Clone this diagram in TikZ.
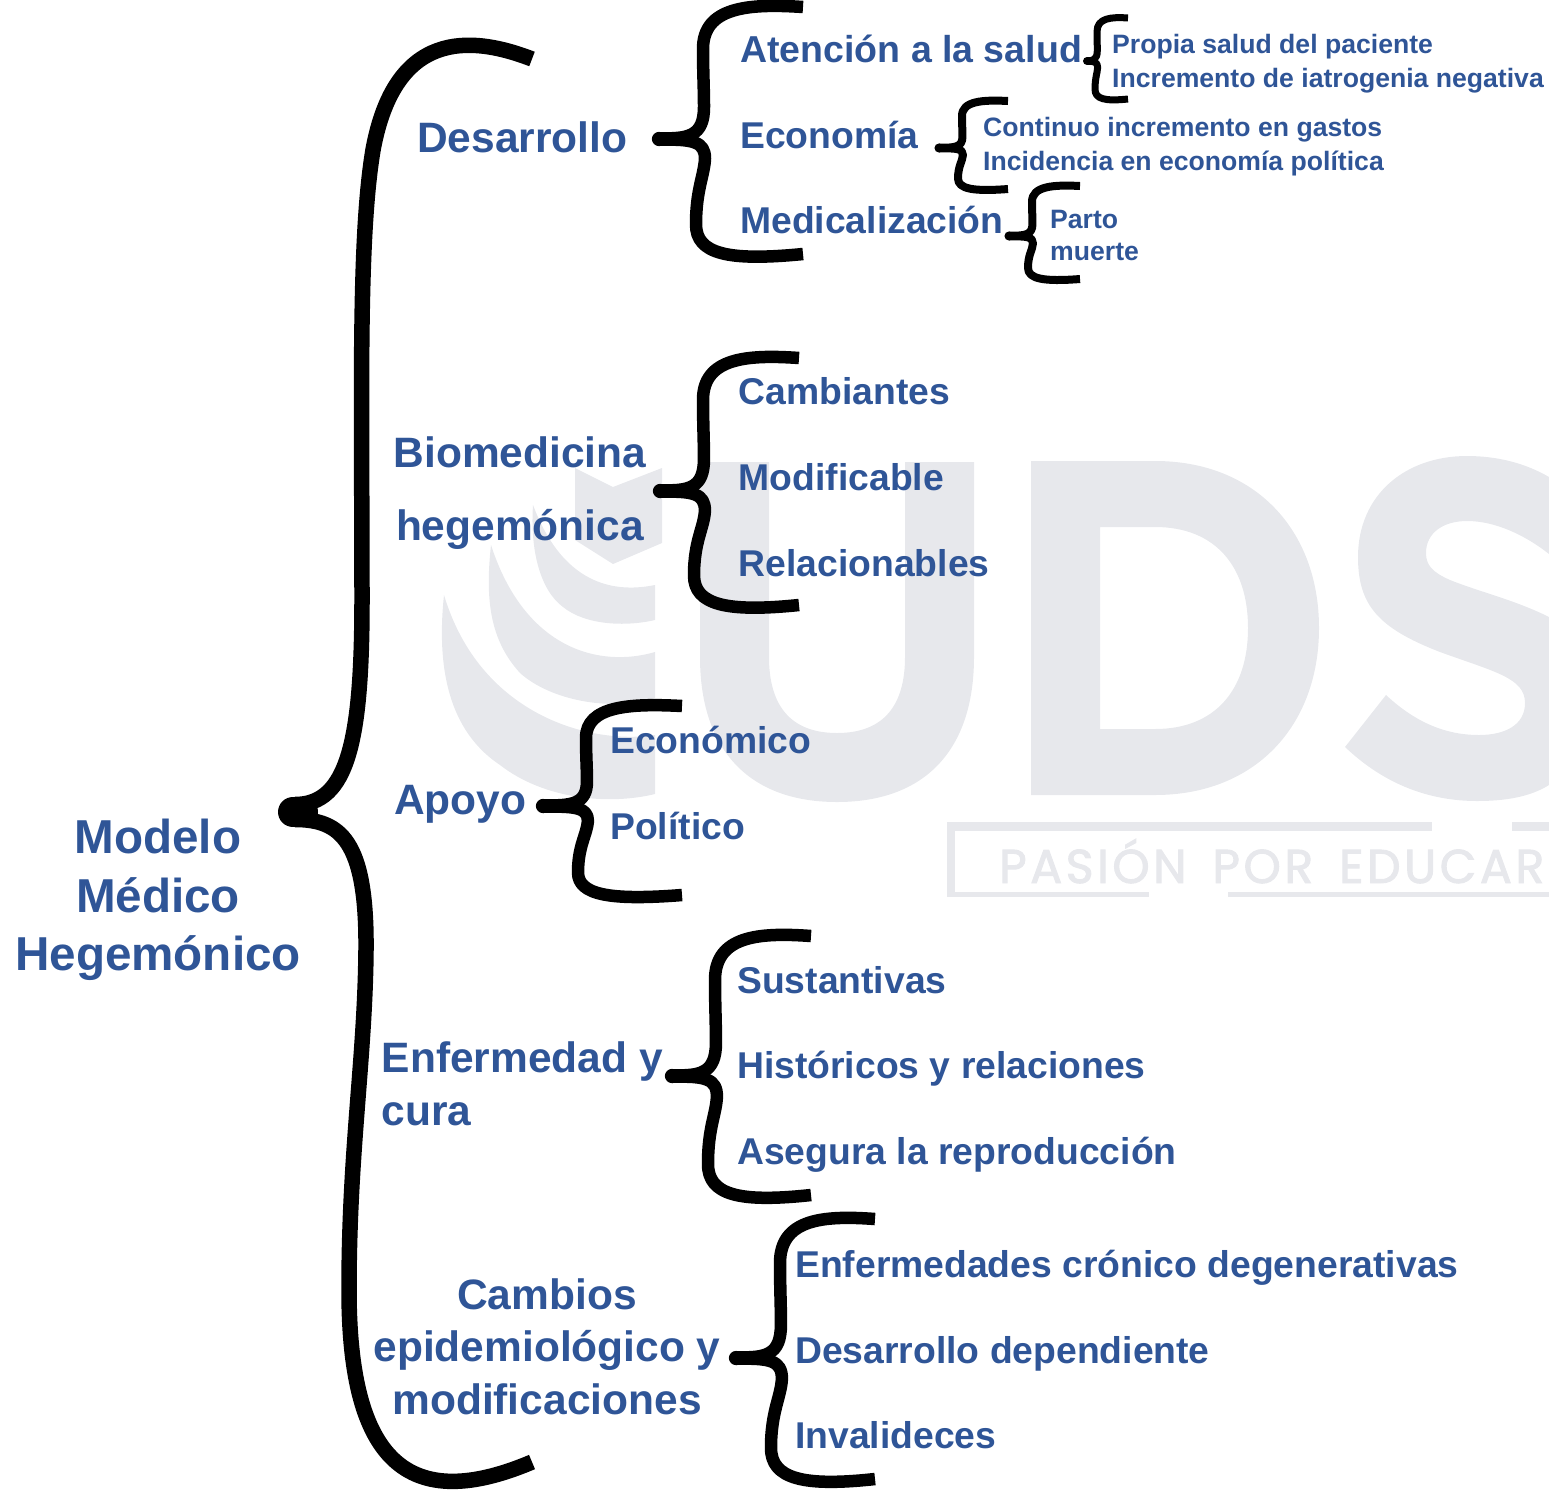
\documentclass[tikz,border=0pt]{standalone}
\usepackage{fontspec}
\setmainfont{Liberation Sans}
\newfontfamily\wmfont[LetterSpace=7.4,WordSpace=1.6,FakeBold=2]{Poppins}
\definecolor{inkblue}{HTML}{2F5597}
\definecolor{wm}{HTML}{E7E8EC}
\newcommand{\fsz}[2]{\fontsize{#1}{#2}\selectfont\bfseries}
\tikzset{
  big/.style={inkblue,inner sep=0pt,align=center,font=\fsz{47.6}{58.5}},
  lvlb/.style={inkblue,inner sep=0pt,font=\fsz{42.5}{52.7}},
  lvlc/.style={inkblue,inner sep=0pt,anchor=base west,font=\fsz{37.3}{44}},
  lvld/.style={inkblue,inner sep=0pt,anchor=base west,font=\fsz{26.6}{32}},
  bracestroke/.style={draw=black,line join=round,line cap=butt},
  wmfill/.style={fill=wm,draw=none}
}
% #1 xe, #2 yt, #3 xs, #4 xl, #5 xt, #6 yc, #7 yb, #8 line width
\newcommand{\curly}[8]{%
  \pgfmathsetmacro{\bw}{#1-#3}%
  \pgfmathsetmacro{\bh}{#7-#2}%
  \draw[bracestroke,line width=#8]
    (#1,#2) .. controls ({#3+.45*\bw},{#2-.015*\bh}) and (#3,#2) .. (#3,{#2+.17*\bh})
    .. controls (#3,{#2+.26*\bh}) and ({#3+.01*\bw},{#6-.2*\bh}) .. ({#3+.01*\bw},{#6-.13*\bh})
    .. controls ({#3+.01*\bw},{#6-.01*\bh}) and ({#3-.15*\bw},#6) .. (#5,{#6-#8*.06});
  \draw[bracestroke,line width=#8]
    (#5,{#6+#8*.06}) .. controls ({#3-.1*\bw},#6) and ({#3+.02*\bw},{#6+.01*\bh}) .. ({#3+.02*\bw},{#6+.08*\bh})
    .. controls ({#3+.01*\bw},{#6+.15*\bh}) and (#4,{#7-.26*\bh}) .. (#4,{#7-.12*\bh})
    .. controls (#4,{#7-.0*\bh}) and ({#3+.25*\bw},{#7+.03*\bh}) .. (#1,#7);
  \fill (#5,#6) circle ({#8*.57pt});
}
\begin{document}
\begin{tikzpicture}[x=1pt,y=-1pt]
\useasboundingbox (0,0) rectangle (1549,1489);
\clip (0,0) rectangle (1549,1489);
% watermark logo
\fill[wmfill] (575,468) -- (575,540) -- (613,564) -- (662,543) -- (662,468) -- (613,487) -- cycle;
\fill[wmfill] (533,505) .. controls (530,550) and (540,590) .. (563,607) .. controls (585,625) and (625,627) .. (655,620) -- (655,585) .. controls (620,592) and (565,590) .. (533,505) -- cycle;
\fill[wmfill] (491,545) .. controls (485,600) and (490,640) .. (520,673) .. controls (550,700) and (610,712) .. (655,698) -- (655,652) .. controls (600,668) and (525,650) .. (491,545) -- cycle;
\fill[wmfill] (444,595) .. controls (435,680) and (455,735) .. (500,765) .. controls (545,800) and (610,805) .. (655,794) -- (655,735) .. controls (590,745) and (480,715) .. (444,595) -- cycle;
\fill[wmfill,even odd rule] (700,462) -- (769,462) -- (769,657) .. controls (769,705) and (790,733) .. (837,733) .. controls (884,733) and (905,705) .. (905,657) -- (905,462) -- (974,462) -- (974,657) .. controls (974,750) and (925,802) .. (837,802) .. controls (749,802) and (700,750) .. (700,657) -- cycle;
\fill[wmfill,even odd rule] (1031,461) -- (1155,461) .. controls (1255,461) and (1319,530) .. (1319,628) .. controls (1319,726) and (1255,795) .. (1155,795) -- (1031,795) -- cycle
  (1100,527) -- (1100,729) -- (1155,729) .. controls (1215,729) and (1248,690) .. (1248,628) .. controls (1248,566) and (1215,527) .. (1155,527) -- cycle;
\fill[wmfill] (1549,477) .. controls (1525,463) and (1497,456) .. (1467,456) .. controls (1405,456) and (1358,495) .. (1358,557)
  .. controls (1358,605) and (1378,628) .. (1440,652) .. controls (1495,672) and (1525,678) .. (1525,703)
  .. controls (1525,725) and (1505,735) .. (1479,735) .. controls (1445,735) and (1415,722) .. (1386,695)
  -- (1345,747) .. controls (1385,785) and (1430,801) .. (1477,801) .. controls (1505,801) and (1530,797) .. (1549,785)
  -- (1549,617) .. controls (1515,600) and (1480,592) .. (1450,580) .. controls (1432,572) and (1426,565) .. (1426,553)
  .. controls (1426,533) and (1443,521) .. (1467,521) .. controls (1495,521) and (1525,535) .. (1549,554) -- cycle;
\fill[wmfill] (947,822) rectangle (1432,831);
\fill[wmfill] (1512,822) rectangle (1549,831);
\fill[wmfill] (947,822) rectangle (955,897);
\fill[wmfill] (947,892) rectangle (1149,897);
\fill[wmfill] (1228,892) rectangle (1549,897);
\node[text=wm,inner sep=0pt,anchor=base west,font=\fontsize{47.5}{48}\wmfont] (lema) at (999,883) {PASIÓN POR EDUCAR};
% main brace
\draw[bracestroke,line width=15.5] (532,59) .. controls (470,35) and (395,30) .. (373,150)
  .. controls (358,240) and (362,400) .. (362,600) .. controls (362,740) and (348,804.5) .. (295,804.5);
\draw[bracestroke,line width=15.5] (295,819.5) .. controls (340,819.5) and (367,840) .. (366,950)
  .. controls (365,1060) and (349,1150) .. (349,1290) .. controls (349,1450) and (400,1518) .. (532,1462);
\draw[line width=30,line cap=round] (293,812) -- (303,812);
% second level braces
\curly{803}{7}{703}{696}{659}{139}{254}{12.5}
\curly{799}{358}{703}{694}{660}{491}{605}{12.5}
\curly{682}{706}{586}{578}{543}{806}{895}{12.5}
\curly{811}{936}{715}{708}{672}{1076}{1195}{12.5}
\curly{875}{1219}{780}{771}{736}{1358}{1479}{12.5}
% third level braces
\curly{1128}{18}{1097}{1095}{1087}{61}{99}{7}
\curly{1008}{101}{962}{958}{939}{148}{189}{8}
\curly{1080}{186}{1032}{1028}{1009}{236}{279}{8}
% texts
\node[big] (root) at (158,900) {Modelo\\Médico\\Hegemónico};
\node[lvlb,anchor=base west] (desarrollo) at (417,152) {Desarrollo};
\node[lvlb,align=center,font=\fsz{42.5}{73}] (bio) at (520,493) {Biomedicina\\hegemónica};
\node[lvlb,anchor=base west] (apoyo) at (394,814) {Apoyo};
\node[lvlb,align=left,anchor=west] (enf) at (381.5,1083.6) {Enfermedad y\\cura};
\node[lvlb,align=center] (cambios) at (547,1346.7) {Cambios\\epidemiológico y\\modificaciones};
\node[lvlc,font=\fsz{37.5}{44}] (atencion) at (740,62) {Atención a la salud};
\node[lvlc] (economia) at (740,148) {Economía};
\node[lvlc] (medical) at (740,233) {Medicalización};
\node[lvld] (propia) at (1112,53) {Propia salud del paciente};
\node[lvld] (increm) at (1112,87) {Incremento de iatrogenia negativa};
\node[lvld] (continuo) at (983,136) {Continuo incremento en gastos};
\node[lvld] (incid) at (983,170) {Incidencia en economía política};
\node[lvld] (parto) at (1050,228) {Parto};
\node[lvld] (muerte) at (1050,260) {muerte};
\node[lvlc] (cambiantes) at (738.5,404) {Cambiantes};
\node[lvlc] (modif) at (738.5,490) {Modificable};
\node[lvlc] (relac) at (738.5,576) {Relacionables};
\node[lvlc] (econ) at (610,753) {Económico};
\node[lvlc] (polit) at (610,839) {Político};
\node[lvlc] (sust) at (737,993) {Sustantivas};
\node[lvlc] (hist) at (737,1078) {Históricos y relaciones};
\node[lvlc] (aseg) at (737,1164) {Asegura la reproducción};
\node[lvlc] (enfcron) at (795,1277) {Enfermedades crónico degenerativas};
\node[lvlc] (desdep) at (795,1363) {Desarrollo dependiente};
\node[lvlc] (inval) at (795,1448) {Invalideces};
\end{tikzpicture}
\end{document}
